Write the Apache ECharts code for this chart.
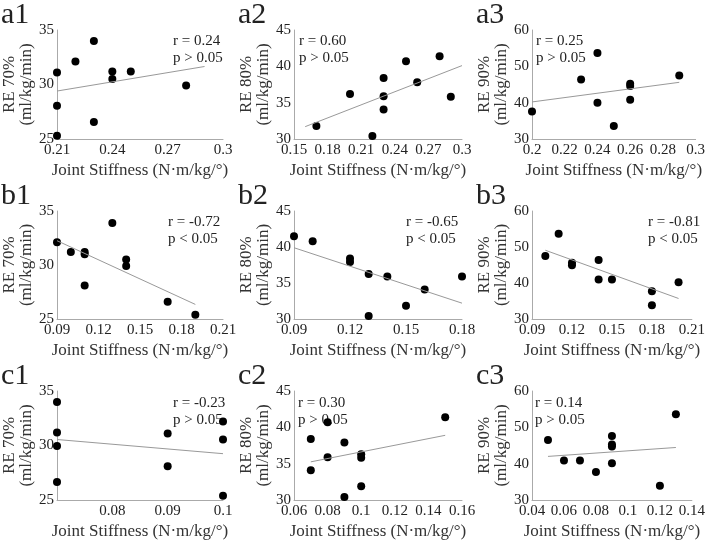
<!DOCTYPE html>
<html>
<head>
<meta charset="utf-8">
<script src="https://cdn.jsdelivr.net/npm/echarts@6/dist/echarts.min.js"></script>
<style>
  html, body { margin: 0; padding: 0; background: #fff; }
  #chart { width: 708px; height: 542px; }
</style>
</head>
<body>
<div id="chart"></div>
<script>
// joint stiffness (x) vs running economy (y), one pair per panel
const a1X = [0.21, 0.21, 0.21, 0.22, 0.23, 0.23, 0.24, 0.24, 0.25, 0.28];
const a1Y = [31.1, 28.05, 25.3, 32.1, 34.0, 26.55, 31.2, 30.5, 31.2, 29.9];
const a2X = [0.17, 0.20, 0.22, 0.23, 0.23, 0.23, 0.25, 0.26, 0.28, 0.29];
const a2Y = [31.8, 36.2, 30.4, 38.4, 35.9, 34.05, 40.7, 37.8, 41.4, 35.8];
const a3X = [0.20, 0.23, 0.24, 0.24, 0.25, 0.26, 0.26, 0.26, 0.29];
const a3Y = [37.6, 46.4, 53.7, 40.0, 33.6, 45.2, 44.6, 40.8, 47.5];
const b1X = [0.09, 0.10, 0.11, 0.11, 0.11, 0.13, 0.14, 0.14, 0.17, 0.19];
const b1Y = [32.1, 31.2, 31.2, 31.0, 28.1, 33.9, 30.5, 29.9, 26.6, 25.4];
const b2X = [0.09, 0.10, 0.12, 0.12, 0.13, 0.13, 0.14, 0.15, 0.16, 0.18];
const b2Y = [41.5, 40.8, 38.4, 37.9, 36.25, 30.4, 35.9, 31.85, 34.1, 35.9];
const b3X = [0.10, 0.11, 0.12, 0.12, 0.14, 0.14, 0.15, 0.18, 0.18, 0.20];
const b3Y = [47.5, 53.7, 45.6, 44.9, 46.4, 41.0, 41.0, 37.7, 33.85, 40.2];
const c1X = [0.07, 0.07, 0.07, 0.07, 0.09, 0.09, 0.10, 0.10, 0.10];
const c1Y = [34.0, 31.2, 29.95, 26.65, 31.1, 28.1, 32.2, 30.55, 25.4];
const c2X = [0.07, 0.07, 0.08, 0.08, 0.09, 0.09, 0.10, 0.10, 0.10, 0.15];
const c2Y = [38.4, 34.1, 40.7, 35.9, 37.9, 30.4, 36.3, 35.8, 31.9, 41.4];
const c3X = [0.05, 0.06, 0.07, 0.08, 0.09, 0.09, 0.09, 0.09, 0.12, 0.13];
const c3Y = [46.5, 40.9, 40.9, 37.7, 47.6, 45.3, 44.7, 40.1, 33.9, 53.6];

// regression line end points [x1, y1, x2, y2]
const a1Fit = [0.21, 29.4, 0.29, 31.65];
const a2Fit = [0.16, 31.7, 0.30, 40.1];
const a3Fit = [0.20, 40.2, 0.29, 45.6];
const b1Fit = [0.09, 32.25, 0.19, 26.35];
const b2Fit = [0.09, 39.9, 0.18, 32.2];
const b3Fit = [0.10, 49.1, 0.20, 35.7];
const c1Fit = [0.07, 30.55, 0.10, 29.25];
const c2Fit = [0.07, 35.25, 0.15, 38.9];
const c3Fit = [0.05, 42.0, 0.13, 44.45];

const panelNames = ['a1', 'a2', 'a3', 'b1', 'b2', 'b3', 'c1', 'c2', 'c3'];
const stats = ['r = 0.24\np > 0.05', 'r = 0.60\np > 0.05', 'r = 0.25\np > 0.05',
               'r = -0.72\np < 0.05', 'r = -0.65\np < 0.05', 'r = -0.81\np < 0.05',
               'r = -0.23\np > 0.05', 'r = 0.30\np > 0.05', 'r = 0.14\np > 0.05'];
const yNames = ['RE 70%\n(ml/kg/min)', 'RE 80%\n(ml/kg/min)', 'RE 90%\n(ml/kg/min)'];
const xName = 'Joint Stiffness (N·m/kg/°)';

// axis ranges [min, max, interval]
const xRanges = [[0.21, 0.3, 0.03], [0.15, 0.3, 0.03], [0.2, 0.3, 0.02],
                 [0.09, 0.21, 0.03], [0.09, 0.18, 0.03], [0.09, 0.21, 0.03],
                 [0.07, 0.1, 0.01], [0.06, 0.16, 0.02], [0.04, 0.14, 0.02]];
const yRanges = [[25, 35, 5], [30, 45, 5], [30, 60, 10]];

const xs = [a1X, a2X, a3X, b1X, b2X, b3X, c1X, c2X, c3X];
const ys = [a1Y, a2Y, a3Y, b1Y, b2Y, b3Y, c1Y, c2Y, c3Y];
const fits = [a1Fit, a2Fit, a3Fit, b1Fit, b2Fit, b3Fit, c1Fit, c2Fit, c3Fit];

const FONT = 'Liberation Serif, DejaVu Serif, Times New Roman, serif';
const colLeft = [57, 294, 532];
const colWidth = [166, 168, 167];
const rowTop = [30, 211, 391];
const rowHeight = [109, 108, 109];
// where the r/p note sits: [x, y]
const statPos = [[173, 33], [299, 33], [536, 33],
                 [168, 214], [406, 214], [648, 214],
                 [173, 395], [298, 395], [535, 395]];

const grid = [], xAxis = [], yAxis = [], series = [], graphic = [];

for (let i = 0; i < 9; i++) {
  const row = Math.floor(i / 3), col = i % 3;
  grid.push({
    left: colLeft[col], top: rowTop[row],
    width: colWidth[col], height: rowHeight[row]
  });
  xAxis.push({
    type: 'value', gridIndex: i,
    min: xRanges[i][0], max: xRanges[i][1], interval: xRanges[i][2],
    name: xName, nameLocation: 'middle', nameGap: 23,
    nameTextStyle: { fontFamily: FONT, fontSize: 17, color: '#333' },
    axisLine: { lineStyle: { color: '#aaa', width: 1 } },
    axisTick: { show: false },
    splitLine: { show: false },
    axisLabel: {
      fontFamily: FONT, fontSize: 15, color: '#222', margin: 4,
      showMinLabel: i !== 6
    }
  });
  yAxis.push({
    type: 'value', gridIndex: i,
    min: yRanges[col][0], max: yRanges[col][1], interval: yRanges[col][2],
    name: yNames[col], nameLocation: 'middle', nameRotate: 90, nameGap: 21,
    nameTextStyle: { fontFamily: FONT, fontSize: 17, lineHeight: 17, color: '#333' },
    axisLine: { show: true, lineStyle: { color: '#aaa', width: 1 } },
    axisTick: { show: false },
    splitLine: { show: false },
    axisLabel: { fontFamily: FONT, fontSize: 15, color: '#222', margin: 3 }
  });
  series.push({
    type: 'line', xAxisIndex: i, yAxisIndex: i,
    data: [[fits[i][0], fits[i][1]], [fits[i][2], fits[i][3]]],
    symbol: 'none', silent: true,
    lineStyle: { color: '#999', width: 1 }
  });
  series.push({
    type: 'scatter', xAxisIndex: i, yAxisIndex: i,
    data: xs[i].map((x, k) => [x, ys[i][k]]),
    symbolSize: 8, clip: false,
    itemStyle: { color: '#000', opacity: 1 }
  });
  graphic.push({
    type: 'text', left: colLeft[col] - 56, top: rowTop[row] - 30,
    style: { text: panelNames[i], fontFamily: FONT, fontSize: 30, fill: '#222' }
  });
  graphic.push({
    type: 'text', left: statPos[i][0], top: statPos[i][1],
    style: { text: stats[i], fontFamily: FONT, fontSize: 15, fill: '#222', lineHeight: 17 }
  });
}

const chart = echarts.init(document.getElementById('chart'));
chart.setOption({
  backgroundColor: '#fff',
  animation: false,
  grid, xAxis, yAxis, series, graphic
});
</script>
</body>
</html>
